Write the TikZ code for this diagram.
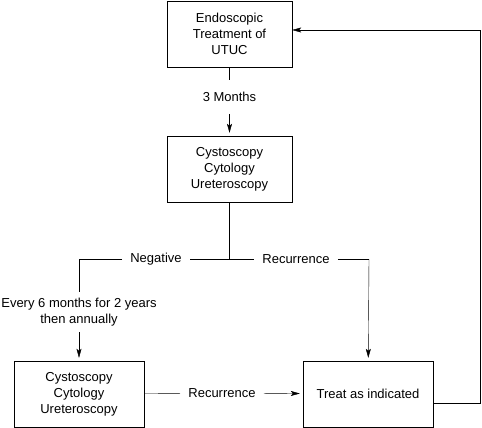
\documentclass[tikz,border=0pt]{standalone}
\usepackage{fontspec}
\setmainfont{Liberation Sans}
\usetikzlibrary{positioning, arrows.meta}
\tikzset{
>={Stealth[length=9pt,width=5pt,inset=2pt]}, % narrow arrow heads
line width=0.8pt,
box/.style={draw, align=center, minimum width=125pt, minimum height=66pt, font=\fontsize{13}{16}\selectfont}, % framed steps
lbl/.style={align=center, inner xsep=8pt, inner ysep=6pt, font=\fontsize{13}{16}\selectfont}, % texts that cut a connector
gap/.style={shorten >=3pt}, % arrow stops just short of the box
}
\begin{document}
\begin{tikzpicture}[x=1pt, y=-1pt]
\useasboundingbox (0,0) rectangle (482,428);
\node[box] (treat0) at (229.5,34) {Endoscopic\\Treatment of\\UTUC};
\node[lbl, inner ysep=12pt] (three) at (229.5,97) {3 Months};
\node[box] (check1) at (229.5,169) {Cystoscopy\\Cytology\\Ureteroscopy};
\coordinate (split) at (229.5,259);
\node[lbl] (neg) at (156,259) {Negative};
\node[lbl] (rec1) at (296,259) {Recurrence};
\coordinate (negc) at (79,259);
\coordinate (recc) at (369,259);
\node[lbl] (every) at (79,312) {Every 6 months for 2 years\\then annually};
\node[box, minimum width=130pt] (check2) at (79,394) {Cystoscopy\\Cytology\\Ureteroscopy};
\node[box, minimum width=130pt] (treat) at (368,394) {Treat as indicated};
\node[lbl] (rec2) at (222,393) {Recurrence};
\coordinate (back) at (480,30);

\draw (treat0) -- (three);
\draw[->, gap] (three) -- (check1);
\draw (check1) -- (split);
\draw (split) -- (neg) (neg) -- (negc) -- (every);
\draw[->, gap] (every) -- (check2);
\draw (split) -- (rec1) (rec1) -- (recc);
\draw[->, gap] (recc) -- (treat);
\draw (check2) -- (rec2);
\draw[->, gap] (rec2) -- (treat);
\draw[->] ([yshift=-9pt]treat.east) -| (back) -- (treat0.east |- back);
\end{tikzpicture}
\end{document}
